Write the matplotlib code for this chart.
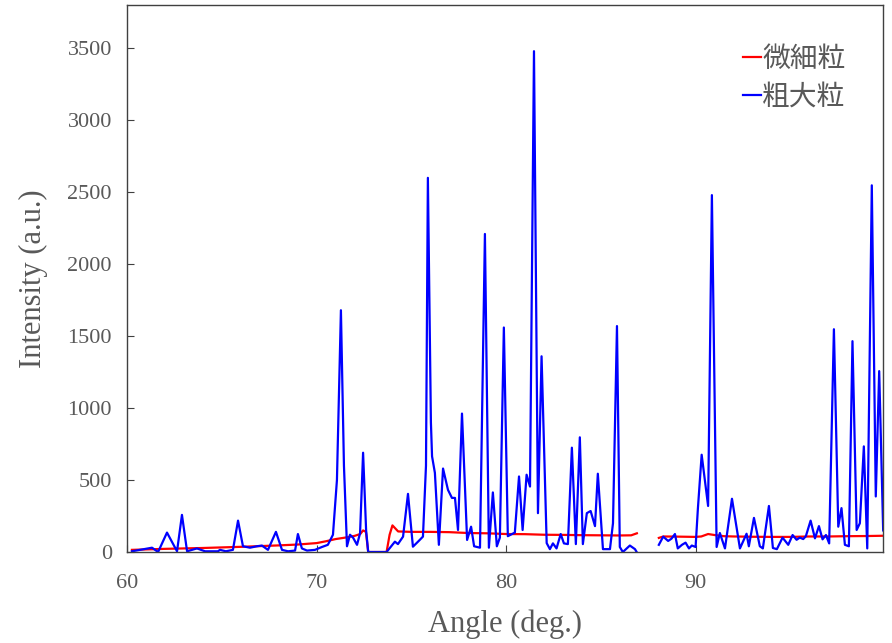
import numpy as np
import matplotlib.pyplot as plt

plt.rcParams['font.family'] = ['Liberation Serif', 'Noto Sans CJK JP', 'DejaVu Sans']

# 微細粒 (red)
fine_angle = [60.25, 62.0, 64.0, 66.0, 68.0, 69.0, 70.0, 70.5, 71.0, 71.5, 72.0, 72.3, 72.45, 72.6, 72.72,
              73.69, 73.85, 74.0, 74.3, 75.0, 76.0, 77.0, 78.0, 79.0, 80.0, 81.0, 82.0, 83.0, 84.0, 85.0,
              86.0, 86.6, 86.9,
              np.nan,
              88.06, 88.3, 89.0, 90.0, 90.3, 90.66, 91.0, 91.5, 92.0, 93.0, 94.0, 95.0, 96.0, 97.0,
              98.0, 99.0, 99.9]
fine_int = [15, 22, 28, 36, 46, 52, 62, 75, 90, 100, 112, 125, 150, 140, 0,
            0, 120, 185, 143, 140, 140, 138, 132, 130, 125, 124, 120, 119, 117, 116,
            115, 116, 130,
            np.nan,
            98, 108, 107, 105, 108, 125, 118, 110, 108, 106, 105, 105, 108, 108,
            110, 111, 113]

# 粗大粒 (blue)
coarse_angle = [60.25, 61.31, 61.63, 62.10, 62.63, 62.89, 63.16, 63.68, 64.11, 64.79, 64.90, 65.21,
                65.58, 65.85, 66.11, 66.48, 66.85, 67.11, 67.43, 67.85, 68.17, 68.49, 68.86, 69.01,
                69.22, 69.49, 69.91, 70.28, 70.59, 70.86, 71.07, 71.28, 71.44, 71.60, 71.76, 71.92,
                72.13, 72.29, 72.45, 72.61, 72.72, 73.69,
                74.13, 74.29, 74.56, 74.82, 75.08, 75.35, 75.61, 75.77, 75.87, 76.03, 76.09, 76.24,
                76.45, 76.67, 76.93, 77.14, 77.30, 77.46, 77.67, 77.94, 78.15, 78.31, 78.62, 78.88,
                79.09, 79.30, 79.51, 79.67, 79.88, 80.09, 80.46, 80.68, 80.87, 81.08, 81.26, 81.47,
                81.68, 81.87, 82.14, 82.31, 82.47, 82.66, 82.88, 83.05, 83.26, 83.47, 83.68, 83.89,
                84.05, 84.26, 84.46, 84.69, 84.84, 85.11, 85.48, 85.64, 85.85, 86.00, 86.16, 86.53,
                86.80, 86.89,
                np.nan,
                88.06, 88.29, 88.55, 88.73, 88.91, 89.06, 89.28, 89.47, 89.65, 89.80, 90.00, 90.12,
                90.32, 90.66, 90.86, 91.11, 91.28, 91.55, 91.92, 92.34, 92.69, 92.81, 93.08, 93.39,
                93.55, 93.87, 94.08, 94.29, 94.59, 94.89, 95.12, 95.33, 95.50, 95.68, 95.82, 96.07,
                96.30, 96.51, 96.70, 96.88, 97.05, 97.30, 97.53, 97.70, 97.88, 98.09, 98.28, 98.50,
                98.67, 98.88, 99.06, 99.30, 99.51, 99.69, 99.90]
coarse_int = [5, 30, 0, 135, 5, 258, 5, 25, 5, 5, 15, 5,
              15, 218, 40, 30, 40, 45, 15, 140, 15, 5, 10, 125,
              25, 10, 15, 35, 50, 120, 500, 1680, 600, 40, 120, 100,
              50, 130, 690, 150, 0, 0,
              72, 55, 107, 404, 37, 72, 107, 600, 2600, 900, 665, 550,
              50, 580, 432, 376, 376, 153, 962, 84, 176, 40, 30, 2210,
              30, 414, 40, 100, 1560, 110, 135, 525, 153, 537, 455, 3480,
              270, 1360, 62, 20, 60, 25, 125, 60, 55, 725, 55, 797,
              55, 270, 285, 180, 544, 20, 20, 200, 1570, 35, 0, 45,
              20, 0,
              np.nan,
              50, 107, 77, 93, 125, 25, 50, 65, 25, 45, 35, 300,
              676, 320, 2480, 35, 132, 25, 370, 25, 127, 40, 237, 40,
              25, 320, 28, 20, 100, 50, 118, 85, 100, 90, 110, 218,
              95, 180, 88, 118, 60, 1548, 176, 305, 50, 40, 1465, 153,
              200, 734, 25, 2548, 386, 1257, 150]

grey = '#595959'

fig = plt.figure(figsize=(8.92, 6.43), dpi=100)
ax = fig.add_axes([0.1426, 0.1415, 0.8475, 0.8505])

ax.plot(fine_angle, fine_int, color='#ff0000', lw=1.6, label='微細粒')
ax.plot(coarse_angle, coarse_int, color='#0000ff', lw=1.6, label='粗大粒')

ax.set_xlim(60, 99.9)
ax.set_ylim(0, 3800)
ax.set_xticks([60, 70, 80, 90])
ax.set_yticks(np.arange(0, 3501, 500))

for s in ax.spines.values():
    s.set_color('#404040')
    s.set_linewidth(1.0)
ax.tick_params(direction='in', length=5, color='#404040', labelsize=16, labelcolor=grey)
ax.tick_params(axis='y', pad=11)
ax.tick_params(axis='x', pad=16)

ax.set_xlabel('Angle (deg.)', fontsize=22, color=grey, labelpad=12)
ax.set_ylabel('Intensity (a.u.)', fontsize=22, color=grey, labelpad=14)

leg = ax.legend(loc='upper right', bbox_to_anchor=(0.965, 0.95), frameon=False,
                handlelength=0.65, handletextpad=0.05, labelspacing=0.3, borderaxespad=0,
                prop={'family': ['Noto Sans CJK JP'], 'size': 20})
for t in leg.get_texts():
    t.set_color(grey)

fig.savefig('out.png', dpi=100)
